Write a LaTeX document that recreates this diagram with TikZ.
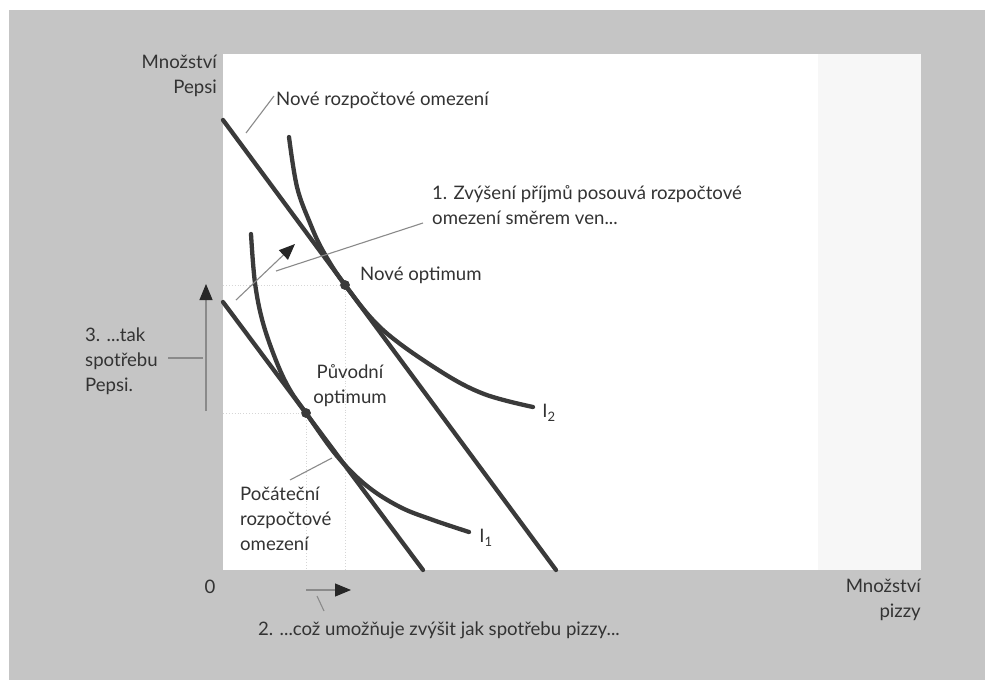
\documentclass[tikz,border=0pt]{standalone}
\usepackage{fontspec}
\setmainfont{Lato}
\usetikzlibrary{arrows.meta}
\definecolor{bggray}{HTML}{C5C5C5}
\definecolor{ink}{HTML}{333333}
\definecolor{curvecol}{HTML}{3A3A3A}
\definecolor{leadcol}{HTML}{8A8A8A}
\definecolor{guidecol}{HTML}{D6D6D6}
\tikzset{
  lbl/.style={inner sep=0pt, text=ink, font=\fontsize{18.6}{25}\selectfont},
  curve/.style={draw=curvecol, line width=4.3pt, line cap=round},
  leader/.style={draw=leadcol, line width=1.1pt},
  guide/.style={draw=guidecol, line width=0.9pt, dotted},
  movearrow/.style={draw=leadcol, line width=1.1pt, -{Triangle[length=16pt,width=13pt,color=black!85]}},
  optdot/.style={circle, fill=curvecol, inner sep=0pt, minimum size=9.5pt}
}
\begin{document}
\begin{tikzpicture}[x=1pt,y=-1pt]
\useasboundingbox (0,0) rectangle (985,680);
% background
\fill[white] (0,0) rectangle (985,680);
\fill[bggray] (9,10) rectangle (985,680);
\fill[white] (223,54) rectangle (921,570);
\fill[black!3] (818,54) rectangle (921,570);

% optimum points
\node[optdot] (nopt) at (345,285) {};
\node[optdot] (popt) at (306,413) {};

% guide lines
\coordinate (gy1) at (223,285);
\coordinate (gx1) at (345,570);
\coordinate (gy2) at (223,413);
\coordinate (gx2) at (306,570);
\draw[guide] (gy1) -- (nopt.center) -- (gx1);
\draw[guide] (gy2) -- (popt.center) -- (gx2);

% budget lines
\coordinate (nb1) at (223,120);
\coordinate (nb2) at (556,570);
\coordinate (ib1) at (223,302);
\coordinate (ib2) at (423,570);
\draw[curve] (nb1) -- (nb2);
\draw[curve] (ib1) -- (ib2);

% indifference curves
\draw[curve] plot[smooth, tension=0.6] coordinates {(289,137) (297,187) (310,223) (323,251) (345,285) (383,330) (440,371) (484,394) (533,407)};
\draw[curve] plot[smooth, tension=0.6] coordinates {(251,234) (255,283) (263,323) (277,363) (290,390) (306,413) (337,456) (367,486) (400,507) (433,520) (469,532)};
\node[optdot] at (nopt) {};
\node[optdot] at (popt) {};

% labels
\node[lbl, anchor=east, align=right] (yax) at (217,76) {Množství\\Pepsi};
\node[lbl, anchor=east, align=right] (xax) at (921,600) {Množství\\pizzy};
\node[lbl] (zero) at (210,587) {0};
\node[lbl, anchor=west] (nbl) at (276,100) {Nové rozpočtové omezení};
\node[lbl, anchor=west, align=left] (shift) at (432,205) {1. Zvýšení příjmů posouvá rozpočtové\\omezení směrem ven...};
\node[lbl, anchor=west] (noptl) at (360,275) {Nové optimum};
\node[lbl, align=center] (poptl) at (350,386) {Původní\\optimum};
\node[lbl, anchor=west, align=left] (ibl) at (240,519) {Počáteční\\rozpočtové\\omezení};
\node[lbl, anchor=west, align=left] (pepsi) at (85,361) {3. ...tak\\spotřebu\\Pepsi.};
\node[lbl, anchor=west] (pizza) at (258,630) {2. ...což umožňuje zvýšit jak spotřebu pizzy...};
\node[lbl] (i2) at (549,413) {I\textsubscript{2}};
\node[lbl] (i1) at (486,538) {I\textsubscript{1}};

% leader lines
\coordinate (l1a) at (246,133);
\coordinate (l1b) at (274,96);
\draw[leader] (l1a) -- (l1b);
\coordinate (l2a) at (276,271);
\coordinate (l2b) at (423,223);
\draw[leader] (l2a) -- (l2b);
\coordinate (l3a) at (290,480);
\coordinate (l3b) at (332,458);
\draw[leader] (l3a) -- (l3b);
\coordinate (l4a) at (168,358);
\coordinate (l4b) at (203,358);
\draw[leader] (l4a) -- (l4b);
\coordinate (l5a) at (317,596);
\coordinate (l5b) at (324,611);
\draw[leader] (l5a) -- (l5b);

% movement arrows
\coordinate (a1s) at (236,300);
\coordinate (a1e) at (295,244);
\draw[movearrow] (a1s) -- (a1e);
\coordinate (a2s) at (206,411);
\coordinate (a2e) at (206,284);
\draw[movearrow] (a2s) -- (a2e);
\coordinate (a3s) at (306,590);
\coordinate (a3e) at (351,590);
\draw[movearrow] (a3s) -- (a3e);
\end{tikzpicture}
\end{document}
